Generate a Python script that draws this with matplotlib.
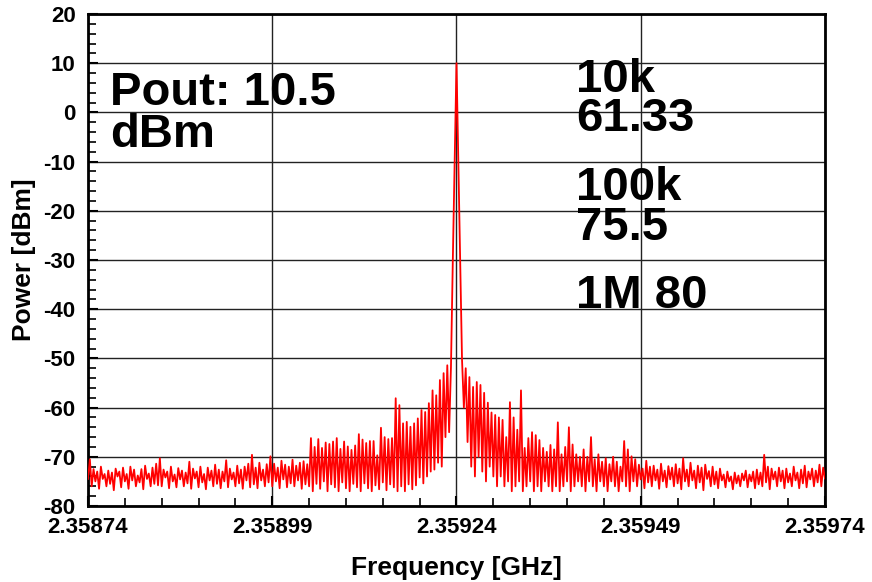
import numpy as np
import matplotlib
matplotlib.use("Agg")
import matplotlib.pyplot as plt
from matplotlib.ticker import MultipleLocator, FixedLocator

plt.rcParams['font.family'] = ['Liberation Sans', 'DejaVu Sans']
plt.rcParams['font.weight'] = 'bold'
plt.rcParams['axes.unicode_minus'] = False

# Spectrum analyser trace: 401 points, 2.5 kHz step, carrier at 2.35924 GHz
center_ghz = 2.35924
step_ghz = 2.5e-6

left_floor = [
    -74.5, -70.5, -76.0, -72.5, -75.0, -73.0, -76.5, -72.0, -74.5, -73.5,
    -76.0, -72.8, -75.5, -73.2, -76.8, -72.4, -74.0, -73.0, -76.2, -72.2,
    -75.0, -73.5, -76.5, -72.0, -74.8, -72.6, -76.0, -73.8, -75.2, -72.5,
    -76.6, -71.8, -74.5, -73.4, -76.0, -72.2, -75.5, -71.4, -75.8, -70.3,
    -76.0, -72.6, -74.2, -73.0, -76.4, -72.0, -75.0, -73.6, -76.2, -72.3,
    -74.6, -72.8, -76.0, -73.2, -75.4, -71.0, -76.5, -72.4, -74.4, -73.0,
    -76.2, -72.0, -75.2, -73.5, -76.6, -72.2, -74.8, -72.8, -76.0, -71.6,
    -75.5, -72.6, -76.4, -73.0, -75.0, -70.7, -76.2, -72.4, -74.6, -73.2,
    -76.0, -71.8, -75.4, -72.6, -76.5, -72.0, -74.8, -71.4, -76.2, -69.6,
    -75.6, -72.2, -76.4, -71.2, -74.8, -72.6, -76.0, -71.5, -75.2, -69.9,
    -76.0, -71.4, -75.0, -72.2, -76.4, -70.8, -74.6, -71.6, -76.2, -72.0,
    -75.4, -70.6, -76.0, -71.8, -74.8, -71.2, -76.5, -70.9, -75.6, -71.5,
]

left_skirt = [
    -76.0, -66.2, -77.0, -68.0, -75.5, -66.4, -76.5, -68.2, -75.0, -67.1,
    -77.0, -67.4, -75.6, -66.9, -76.2, -66.2, -77.0, -68.4, -75.2, -66.9,
    -76.4, -67.9, -77.0, -68.6, -75.5, -67.7, -76.2, -65.4, -77.0, -66.5,
    -75.4, -67.2, -76.4, -66.8, -77.0, -66.8, -75.8, -69.7, -76.6, -64.1,
    -75.2, -66.0, -76.8, -66.4, -75.6, -66.2, -76.2, -58.1, -77.0, -59.5,
    -76.0, -63.2, -77.0, -62.9, -75.6, -63.9, -76.6, -63.2, -75.8, -62.2,
    -74.2, -60.5, -75.4, -60.9, -74.0, -59.1, -73.0, -56.5, -72.6, -57.5,
    -71.2, -54.4, -72.0, -53.0, -66.0, -51.4, -65.0,
]

carrier = [-51.7, -30.0, -10.0, 10.0, -10.5, -30.5, -50.3]

right_skirt = [
    -60.0, -52.0, -67.0, -53.8, -72.0, -55.8, -74.0, -54.8, -70.0, -55.4,
    -73.0, -57.0, -75.0, -59.0, -72.0, -61.0, -74.0, -61.5, -76.0, -62.0,
    -74.0, -62.5, -76.0, -66.0, -75.0, -58.9, -77.0, -62.0, -76.0, -64.5,
    -75.0, -56.5, -77.0, -68.2, -76.0, -66.2, -75.0, -65.0, -77.0, -65.6,
    -76.0, -66.6, -77.0, -68.2, -75.0, -69.0, -76.0, -67.6, -77.0, -68.5,
    -76.0, -63.0, -77.0, -69.5, -76.0, -68.0, -75.0, -64.0, -77.0, -67.5,
    -76.0, -69.5, -75.0, -70.0, -76.0, -68.5, -77.0, -70.0, -75.0, -66.0,
    -76.0, -70.5, -77.0, -69.5, -75.0, -71.0, -76.0, -70.3, -77.0, -71.5,
    -75.0, -70.0, -76.0, -71.0, -77.0, -72.0, -75.0, -66.8, -76.0, -68.5,
    -77.0, -69.9, -75.0, -70.5,
]

right_floor = [
    -76.0, -71.6, -74.6, -72.4, -76.4, -70.8, -75.2, -72.0, -76.0, -71.8,
    -74.8, -72.6, -76.5, -71.4, -75.0, -72.8, -76.2, -71.9, -74.6, -72.2,
    -76.0, -71.5, -75.4, -72.4, -76.6, -70.3, -75.0, -72.6, -76.0, -71.2,
    -74.8, -72.8, -76.4, -71.8, -75.2, -72.2, -76.8, -71.6, -74.5, -72.9,
    -76.0, -72.0, -75.6, -73.0, -76.4, -72.4, -74.8, -73.6, -76.2, -73.0,
    -75.0, -74.0, -76.6, -73.2, -75.4, -73.8, -76.0, -73.4, -74.8, -72.8,
    -76.2, -73.6, -75.0, -73.0, -76.4, -72.6, -75.6, -73.2, -76.0, -69.6,
    -75.2, -72.0, -76.6, -72.4, -74.6, -73.0, -76.0, -72.2, -75.0, -72.8,
    -76.4, -72.4, -75.2, -73.4, -76.0, -72.0, -74.8, -73.2, -76.4, -72.6,
    -75.4, -71.8, -76.2, -73.0, -74.6, -72.4, -76.0, -72.8, -75.2, -71.6,
    -76.0, -72.2, -74.4,
]

power_dbm = np.array(left_floor + left_skirt + carrier + right_skirt + right_floor)
peak_idx = int(np.argmax(power_dbm))
freq_ghz = center_ghz + (np.arange(power_dbm.size) - peak_idx) * step_ghz

x_ticks = [2.35874, 2.35899, 2.35924, 2.35949, 2.35974]
x_tick_labels = ["2.35874", "2.35899", "2.35924", "2.35949", "2.35974"]
y_ticks = [20, 10, 0, -10, -20, -30, -40, -50, -60, -70, -80]

notes_left = ["Pout: 10.5", "dBm"]
notes_right = ["10k", "61.33", "100k", "75.5", "1M 80"]

W, H = 872, 582
fig = plt.figure(figsize=(W / 100, H / 100), dpi=100)
ax = fig.add_axes([88 / W, 1 - 506 / H, (825 - 88) / W, (506 - 14) / H])

ax.plot(freq_ghz, power_dbm, color='#ff0000', lw=1.3, zorder=3)

ax.set_xlim(x_ticks[0], x_ticks[-1])
ax.set_ylim(-80, 20)
ax.set_xticks(x_ticks)
ax.set_xticklabels(x_tick_labels)
ax.set_yticks(y_ticks)
ax.xaxis.set_minor_locator(FixedLocator(np.arange(x_ticks[0], x_ticks[-1] + 1e-9, 0.00005)))
ax.yaxis.set_minor_locator(MultipleLocator(2))

ax.grid(True, which='major', color='#222222', lw=1.0, zorder=1)
ax.tick_params(which='both', direction='in', top=False, right=False)
ax.tick_params(which='major', length=7, width=1.5, labelsize=16)
ax.tick_params(axis='y', which='major', pad=9)
ax.tick_params(axis='x', which='major', pad=8)
ax.tick_params(which='minor', length=6, width=1.2)
for lab in ax.get_xticklabels() + ax.get_yticklabels():
    lab.set_fontweight('bold')
for s in ax.spines.values():
    s.set_linewidth(2.0)
    s.set_color('black')

ax.set_xlabel("Frequency [GHz]", fontsize=19, fontweight='bold', labelpad=13)
ax.set_ylabel("Power [dBm]", fontsize=19, fontweight='bold', labelpad=5)


def put(text, x, y):
    """Place a large bold note with its baseline at figure pixel (x, y)."""
    fig.text(x / W, 1 - y / H, text, fontsize=34, fontweight='bold',
             ha='left', va='baseline', color='black', zorder=5)


for txt, yb in zip(notes_left, [105, 147]):
    put(txt, 110, yb)
for txt, yb in zip(notes_right, [92, 131, 200, 240, 308]):
    put(txt, 576, yb)

fig.savefig("out.png", dpi=100)
